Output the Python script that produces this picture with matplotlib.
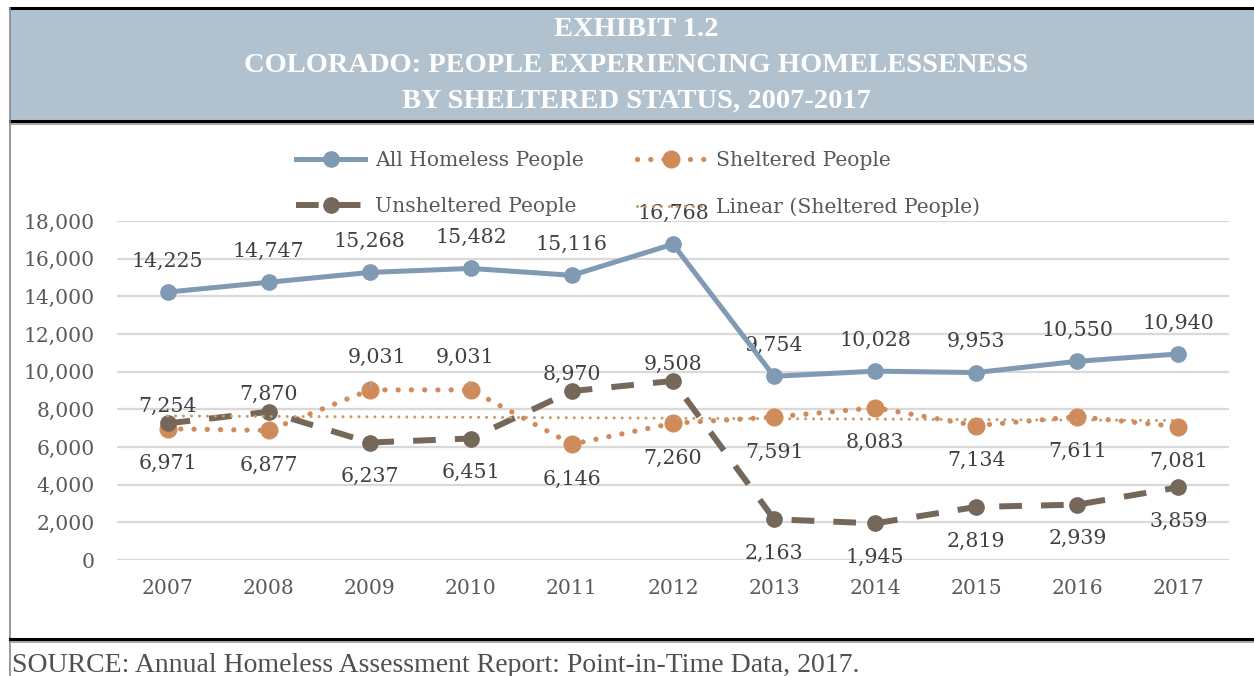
import numpy as np
import matplotlib.pyplot as plt
from matplotlib.patches import Rectangle
from matplotlib.lines import Line2D

# Data
years = ['2007', '2008', '2009', '2010', '2011', '2012', '2013', '2014', '2015', '2016', '2017']
all_homeless = [14225, 14747, 15268, 15482, 15116, 16768, 9754, 10028, 9953, 10550, 10940]
sheltered = [6971, 6877, 9031, 9031, 6146, 7260, 7591, 8083, 7134, 7611, 7081]
unsheltered = [7254, 7870, 6237, 6451, 8970, 9508, 2163, 1945, 2819, 2939, 3859]
# label above the point (True) or below it (False), per year
unsh_above = [True, True, False, False, True, True, False, False, False, False, False]
shel_above = [False, False, True, True, False, False, False, False, False, False, False]

blue = '#7F9AB2'
orange = '#D08B5B'
brown = '#76675B'
trend_col = '#C99B6A'
lab_col = '#404040'
tick_col = '#595959'

plt.rcParams['font.family'] = ['DejaVu Serif']

W, H = 1254, 676
fig = plt.figure(figsize=(W / 100, H / 100), dpi=100)

def fx(px):
    return px / W

def fy(py):
    return 1 - py / H

# Frames
fig.patches.append(Rectangle((fx(10), fy(122)), 1, (122 - 8) / H, transform=fig.transFigure,
                             facecolor='#B1C1CD', edgecolor='none', zorder=0))
fig.add_artist(Line2D([fx(10), 1], [fy(8), fy(8)], color='black', lw=2.2))
fig.add_artist(Line2D([fx(10), 1], [fy(121), fy(121)], color='black', lw=2.2))
fig.add_artist(Line2D([fx(10), 1], [fy(123.5), fy(123.5)], color='#999999', lw=1.2))
fig.add_artist(Line2D([fx(10), fx(10)], [fy(8), fy(676)], color='#888888', lw=1.2))
fig.add_artist(Line2D([fx(10), 1], [fy(639), fy(639)], color='black', lw=2.2))
fig.add_artist(Line2D([fx(10), 1], [fy(641.5), fy(641.5)], color='#999999', lw=1.2))

# Title
title_lines = ['EXHIBIT 1.2', 'COLORADO: PEOPLE EXPERIENCING HOMELESSENESS', 'BY SHELTERED STATUS, 2007-2017']
for t, py in zip(title_lines, [29, 65, 101]):
    fig.text(fx(636), fy(py), t, ha='center', va='center', color='white',
             fontsize=20.5, fontweight='bold', family='Liberation Serif')

# Source
fig.text(fx(12), fy(665), 'SOURCE: Annual Homeless Assessment Report: Point-in-Time Data, 2017.',
         ha='left', va='center', color='#505050', fontsize=20, family='Liberation Serif')

ax = fig.add_axes([fx(117), fy(560), (1229 - 117) / W, (560 - 221) / H])
x = np.arange(len(years))

ax.plot(x, all_homeless, color=blue, lw=3.6, marker='o', ms=11, label='All Homeless People', zorder=4)
ax.plot(x, sheltered, color=orange, lw=3.8, ls=(0, (0.01, 2.5)), dash_capstyle='round',
        marker='o', ms=12, label='Sheltered People', zorder=3)
ax.plot(x, unsheltered, color=brown, lw=4.3, ls=(0, (3.8, 3.2)), marker='o', ms=11,
        label='Unsheltered People', zorder=3)
coef = np.polyfit(x, sheltered, 1)
ax.plot(x, np.polyval(coef, x), color=trend_col, lw=2.2, ls=(0, (0.01, 2.6)),
        dash_capstyle='round', label='Linear (Sheltered People)', zorder=5)

ax.set_xlim(-0.5, len(years) - 0.5)
ax.set_ylim(0, 18000)
ax.set_yticks(range(0, 18001, 2000))
ax.set_yticklabels([f'{v:,}' for v in range(0, 18001, 2000)])
ax.set_xticks(x)
ax.set_xticklabels(years)
ax.tick_params(length=0, labelsize=14.6, colors=tick_col)
ax.tick_params(axis='x', pad=14)
ax.tick_params(axis='y', pad=16)
for s in ax.spines.values():
    s.set_visible(False)
ax.grid(axis='y', color='#D9D9D9', lw=1.6)
ax.set_axisbelow(True)
ax.patch.set_alpha(0)

fs = 14.8
for i, v in enumerate(all_homeless):
    ax.annotate(f'{v:,}', (i, v), xytext=(0, 31), textcoords='offset pixels',
                ha='center', va='center', fontsize=fs, color=lab_col)
for i, v in enumerate(unsheltered):
    dy = 17 if unsh_above[i] else -34
    ax.annotate(f'{v:,}', (i, v), xytext=(0, dy), textcoords='offset pixels',
                ha='center', va='center', fontsize=fs, color=lab_col)
for i, v in enumerate(sheltered):
    if shel_above[i]:
        dx = 7 if i == 2 else -6
        ax.annotate(f'{v:,}', (i, v), xytext=(dx, 33), textcoords='offset pixels',
                    ha='center', va='center', fontsize=fs, color=lab_col,
                    arrowprops=dict(arrowstyle='-', color='#A6A6A6', lw=1.2,
                                    shrinkA=9, shrinkB=2))
    else:
        ax.annotate(f'{v:,}', (i, v), xytext=(0, -35), textcoords='offset pixels',
                    ha='center', va='center', fontsize=fs, color=lab_col)

handles, labels = ax.get_legend_handles_labels()
order = [0, 2, 1, 3]
leg = ax.legend([handles[k] for k in order], [labels[k] for k in order], ncol=2,
                loc='center', bbox_to_anchor=(fx(638), fy(184)), bbox_transform=fig.transFigure,
                frameon=False, fontsize=14.6, handlelength=3.4, columnspacing=2.6,
                labelspacing=1.35, handletextpad=0.5, labelcolor=tick_col)

fig.savefig('out.png', dpi=100)
